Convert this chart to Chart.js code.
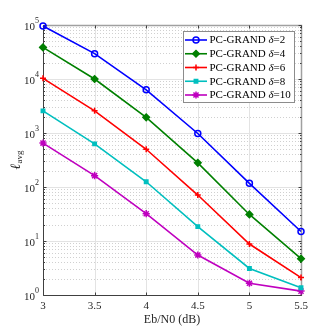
<!DOCTYPE html>
<html><head><meta charset="utf-8">
<script src="https://cdn.jsdelivr.net/npm/chart.js@4/dist/chart.umd.min.js"></script>
<style>html,body{margin:0;padding:0;background:#fff}#wrap{width:332px;height:332px}</style>
</head><body><div id="wrap"><canvas id="c" width="332" height="332"></canvas></div>
<script>
const ebn0 = [3, 3.5, 4, 4.5, 5, 5.5];
const delta2 = [96000, 29500, 6300, 980, 117, 15];
const delta4 = [38500, 10000, 1950, 280, 31, 4.7];
const delta6 = [10300, 2570, 500, 71, 8.8, 2.1];
const delta8 = [2570, 630, 125, 18.5, 3.1, 1.36];
const delta10 = [650, 162, 32, 5.5, 1.65, 1.18];
const seriesNames = ['2', '4', '6', '8', '10'];
const xTicks = [3, 3.5, 4, 4.5, 5, 5.5];
const yTicks = [1, 10, 100, 1000, 10000, 100000];

const SERIF = '"Liberation Serif","Times New Roman",serif';
const styles = [
  {color:'#0000ff', pointStyle:'circle', fill:'rgba(255,255,255,0)', r:3},
  {color:'#008000', pointStyle:'rectRot', fill:'#008000', r:3.3},
  {color:'#ff0000', pointStyle:'cross', fill:'#ff0000', r:3},
  {color:'#00bfbf', pointStyle:'rect', fill:'#00bfbf', r:2.4},
  {color:'#bf00bf', pointStyle:'star', fill:'#bf00bf', r:3.6}
];
const allSeries = [delta2, delta4, delta6, delta8, delta10];

const datasets = allSeries.map((s, i) => ({
  label: 'PC-GRAND δ=' + seriesNames[i],
  data: ebn0.map((x, j) => ({x: x, y: s[j]})),
  borderColor: styles[i].color,
  backgroundColor: styles[i].fill,
  pointStyle: styles[i].pointStyle,
  pointRadius: styles[i].r,
  pointBorderWidth: 1.5,
  pointBorderColor: styles[i].color,
  pointBackgroundColor: styles[i].fill,
  borderWidth: 1.6,
  tension: 0,
  clip: false
}));

const decor = {
  id: 'decor',
  beforeDatasetsDraw(chart) {
    const ctx = chart.ctx, a = chart.chartArea;
    const xs = chart.scales.x, ys = chart.scales.y;
    ctx.save();
    ctx.strokeStyle = '#d0d0d0';
    ctx.lineWidth = 1;
    ctx.setLineDash([1, 2]);
    for (let d = 0; d < 5; d++) {
      for (let m = 2; m <= 9; m++) {
        const py = Math.round(ys.getPixelForValue(m * Math.pow(10, d))) + 0.5;
        ctx.beginPath(); ctx.moveTo(a.left, py); ctx.lineTo(a.right, py); ctx.stroke();
      }
    }
    ctx.setLineDash([]);
    ctx.strokeStyle = '#e3e3e3';
    yTicks.forEach(v => {
      const py = Math.round(ys.getPixelForValue(v)) + 0.5;
      ctx.beginPath(); ctx.moveTo(a.left, py); ctx.lineTo(a.right, py); ctx.stroke();
    });
    xTicks.forEach(v => {
      const px = Math.round(xs.getPixelForValue(v)) + 0.5;
      ctx.beginPath(); ctx.moveTo(px, a.top); ctx.lineTo(px, a.bottom); ctx.stroke();
    });
    const L = Math.round(a.left) + 0.5, R = Math.round(a.right) + 0.5;
    const T = Math.round(a.top) + 0.5, B = Math.round(a.bottom) + 0.5;
    ctx.strokeStyle = '#a0a0a0';
    ctx.lineWidth = 1.5;
    ctx.beginPath(); ctx.moveTo(L, T); ctx.lineTo(R, T); ctx.lineTo(R, B); ctx.stroke();
    ctx.strokeStyle = '#404040';
    ctx.lineWidth = 1;
    ctx.beginPath(); ctx.moveTo(L, T); ctx.lineTo(L, B); ctx.lineTo(R, B); ctx.stroke();
    ctx.strokeStyle = '#404040';
    yTicks.forEach(v => {
      const py = Math.round(ys.getPixelForValue(v)) + 0.5;
      ctx.beginPath(); ctx.moveTo(L, py); ctx.lineTo(L + 3, py); ctx.stroke();
      ctx.beginPath(); ctx.moveTo(R, py); ctx.lineTo(R - 3, py); ctx.stroke();
    });
    for (let d = 0; d < 5; d++) {
      for (let m = 2; m <= 9; m++) {
        const py = Math.round(ys.getPixelForValue(m * Math.pow(10, d))) + 0.5;
        ctx.beginPath(); ctx.moveTo(L, py); ctx.lineTo(L + 1.5, py); ctx.stroke();
        ctx.beginPath(); ctx.moveTo(R, py); ctx.lineTo(R - 1.5, py); ctx.stroke();
      }
    }
    xTicks.forEach(v => {
      const px = Math.round(xs.getPixelForValue(v)) + 0.5;
      ctx.beginPath(); ctx.moveTo(px, B); ctx.lineTo(px, B - 3); ctx.stroke();
      ctx.beginPath(); ctx.moveTo(px, T); ctx.lineTo(px, T + 3); ctx.stroke();
    });
    ctx.fillStyle = '#262626';
    ctx.font = '11px ' + SERIF;
    ctx.textAlign = 'center'; ctx.textBaseline = 'middle';
    xTicks.forEach(v => {
      ctx.fillText(String(v), xs.getPixelForValue(v), a.bottom + 11);
    });
    yTicks.forEach(v => {
      const py = ys.getPixelForValue(v);
      const e = String(Math.round(Math.log10(v)));
      ctx.font = '8px ' + SERIF;
      ctx.textAlign = 'left';
      const ew = ctx.measureText(e).width;
      ctx.fillText(e, a.left - 4 - ew, py - 4);
      ctx.font = '11px ' + SERIF;
      ctx.textAlign = 'right';
      ctx.fillText('10', a.left - 4 - ew, py + 2);
    });
    ctx.textAlign = 'center';
    ctx.font = '12px ' + SERIF;
    ctx.fillText('Eb/N0 (dB)', (a.left + a.right) / 2, a.bottom + 25);
    ctx.save();
    ctx.translate(16, (a.top + a.bottom) / 2);
    ctx.rotate(-Math.PI / 2);
    ctx.font = 'italic 14px ' + SERIF;
    ctx.textAlign = 'left';
    const lw = ctx.measureText('ℓ').width;
    ctx.font = '9px ' + SERIF;
    const sw = ctx.measureText('avg').width;
    const sx = -(lw + sw) / 2;
    ctx.font = 'italic 14px ' + SERIF;
    ctx.fillText('ℓ', sx, 0);
    ctx.font = '9px ' + SERIF;
    ctx.fillText('avg', sx + lw, 4);
    ctx.restore();
    ctx.restore();
  },
  afterDatasetsDraw(chart) {
    const ctx = chart.ctx;
    ctx.save();
    const bx = 183.5, by = 31.5, bw = 111, bh = 71;
    ctx.fillStyle = '#fff';
    ctx.fillRect(bx, by, bw, bh);
    ctx.strokeStyle = '#8c8c8c';
    ctx.lineWidth = 1;
    ctx.strokeRect(bx, by, bw, bh);
    chart.data.datasets.forEach((ds, i) => {
      const cy = 40 + i * 13.75;
      ctx.strokeStyle = ds.borderColor;
      ctx.lineWidth = ds.borderWidth;
      ctx.beginPath(); ctx.moveTo(185, cy); ctx.lineTo(207, cy); ctx.stroke();
      ctx.fillStyle = ds.pointBackgroundColor;
      ctx.strokeStyle = ds.pointBorderColor;
      ctx.lineWidth = ds.pointBorderWidth;
      Chart.helpers.drawPoint(ctx, {
        pointStyle: ds.pointStyle, radius: ds.pointRadius, borderWidth: ds.pointBorderWidth, rotation: 0
      }, 196, cy);
      ctx.fillStyle = '#000';
      ctx.font = '11px ' + SERIF;
      ctx.textAlign = 'left'; ctx.textBaseline = 'middle';
      const t1 = 'PC-GRAND ';
      ctx.fillText(t1, 209.5, cy + 0.5);
      let x = 209.5 + ctx.measureText(t1).width;
      ctx.font = 'italic 11px ' + SERIF;
      ctx.fillText('δ', x, cy + 0.5);
      x += ctx.measureText('δ').width;
      ctx.font = '11px ' + SERIF;
      ctx.fillText('=' + seriesNames[i], x, cy + 0.5);
    });
    ctx.restore();
  }
};

new Chart(document.getElementById('c'), {
  type: 'line',
  data: { datasets },
  options: {
    responsive: false,
    animation: false,
    layout: { padding: { left: 43, right: 31, top: 25, bottom: 37 } },
    plugins: { legend: { display: false }, tooltip: { enabled: false } },
    scales: {
      x: { type: 'linear', min: 3, max: 5.5, display: false },
      y: { type: 'logarithmic', min: 1, max: 100000, display: false }
    }
  },
  plugins: [decor]
});
</script>
</body></html>
